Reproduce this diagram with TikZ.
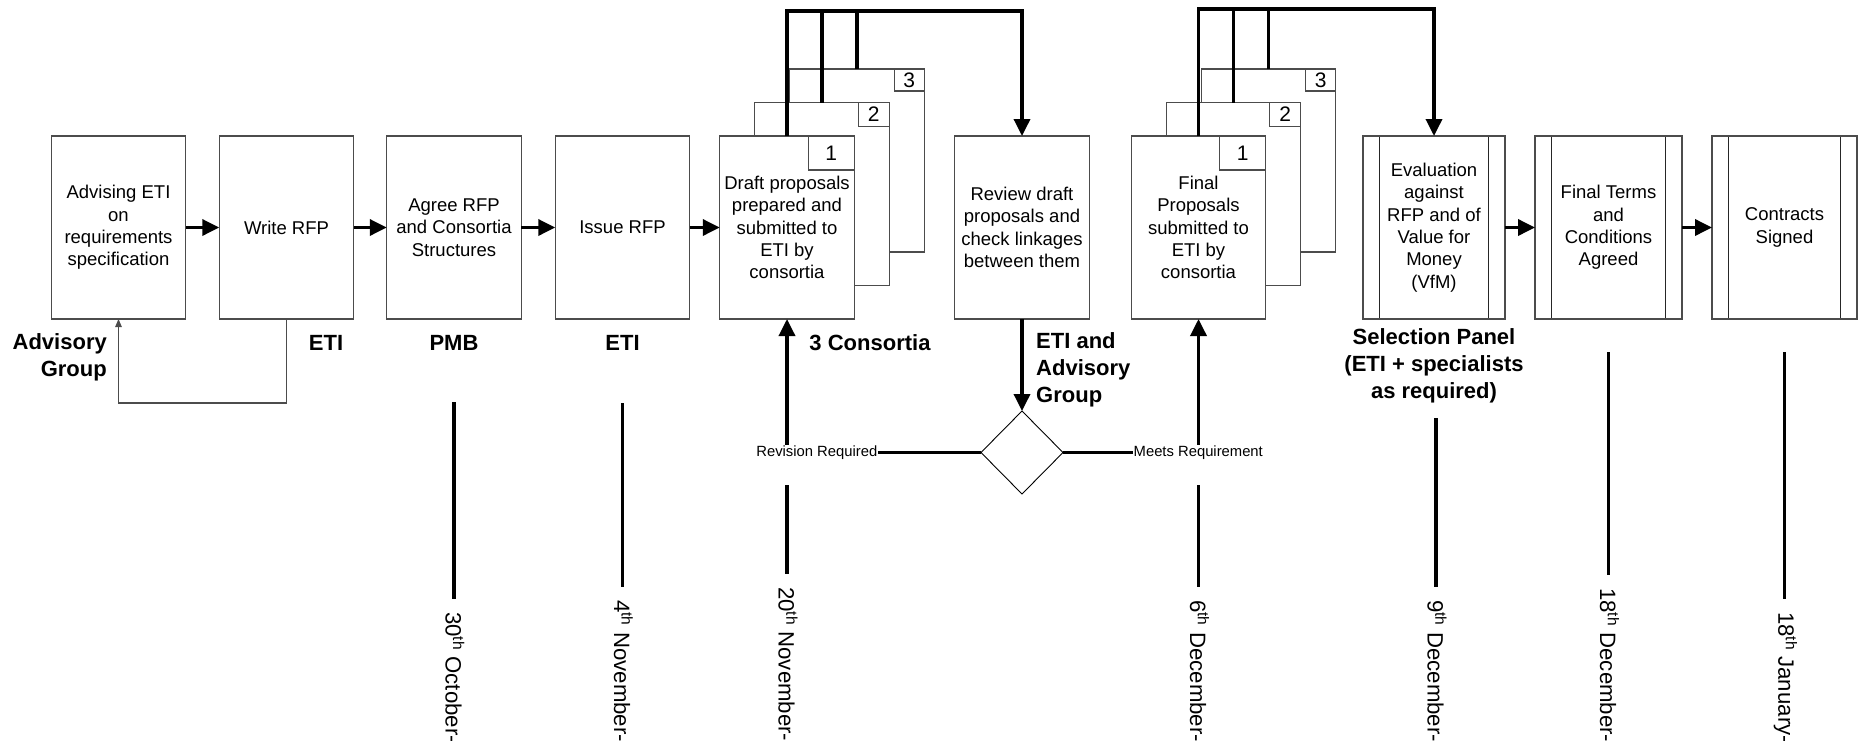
\documentclass[tikz,border=0pt]{standalone}
\usepackage{fontspec}
\setmainfont{Liberation Sans}
\usetikzlibrary{arrows.meta,shapes.geometric}
\newcommand\myboxfont{\fontsize{18.5}{22.4}\selectfont}
\newcommand\mylblfont{\fontsize{22}{27}\selectfont\bfseries}
\newcommand\mydatefont{\fontsize{22.2}{26}\selectfont}
\newcommand\mysmallfont{\fontsize{14.8}{18}\selectfont}
\newcommand\mynumfont{\fontsize{21}{24}\selectfont}
\begin{document}
\begin{tikzpicture}[x=1pt,y=-1pt,
  proc/.style={draw=black!70, line width=1.1pt, fill=white, minimum width=134.5pt, minimum height=183pt, inner sep=0pt, outer sep=0pt, align=center, font=\myboxfont},
  pproc/.style={proc, path picture={
     \draw[black!85,line width=1.1pt] ([xshift=16.5pt]path picture bounding box.north west) -- ([xshift=16.5pt]path picture bounding box.south west);
     \draw[black!85,line width=1.1pt] ([xshift=-16.5pt]path picture bounding box.north east) -- ([xshift=-16.5pt]path picture bounding box.south east);}},
  numbox/.style={draw=black!70, line width=1.1pt, fill=white, inner sep=0pt, outer sep=0pt, font=\mynumfont, anchor=north east},
  flow/.style={line width=3.5pt, -{Triangle[length=17pt,width=16pt]}},
  conn/.style={line width=3.5pt},
  fbline/.style={draw=black!70, line width=1.1pt, -{Triangle[length=8pt,width=6.5pt]}},
  lbl/.style={font=\mylblfont, inner sep=0pt},
  datelbl/.style={font=\mydatefont, rotate=-90, anchor=west, inner sep=0pt},
  tline/.style={line width=3.8pt, shorten >=13pt},
  declbl/.style={font=\mysmallfont, inner sep=0.5pt}
]
\useasboundingbox (0,0) rectangle (1858,740);

% main process boxes
\node[proc] (adv) at (118.5,227.5) {Advising ETI\\on\\requirements\\specification};
\node[proc] (write) at (286.5,227.5) {Write RFP};
\node[proc] (agree) at (454,227.5) {Agree RFP\\and Consortia\\Structures};
\node[proc] (issue) at (622.5,227.5) {Issue RFP};

% draft proposals stack
\node[proc] (d3) at (857,160.5) {};
\node[numbox, minimum width=30pt, minimum height=22pt] (n3) at (d3.north east) {3};
\node[proc] (d2) at (822,194) {};
\node[numbox, minimum width=31pt, minimum height=24pt] (n2) at (d2.north east) {2};
\node[proc] (d1) at (787,227.5) {Draft proposals\\prepared and\\submitted to\\ETI by\\consortia};
\node[numbox, minimum width=46pt, minimum height=34pt] (n1) at (d1.north east) {1};

\node[proc] (review) at (1022,227.5) {Review draft\\proposals and\\check linkages\\between them};

% final proposals stack
\node[proc] (f3) at (1268.5,160.5) {};
\node[numbox, minimum width=30pt, minimum height=22pt] (m3) at (f3.north east) {3};
\node[proc] (f2) at (1233.5,194) {};
\node[numbox, minimum width=31pt, minimum height=24pt] (m2) at (f2.north east) {2};
\node[proc] (f1) at (1198.5,227.5) {Final\\Proposals\\submitted to\\ETI by\\consortia};
\node[numbox, minimum width=46pt, minimum height=34pt] (m1) at (f1.north east) {1};

\node[pproc, minimum width=142pt] (eval) at (1434,227.5) {Evaluation\\against\\RFP and of\\Value for\\Money\\(VfM)};
\node[pproc, minimum width=147pt] (terms) at (1608.5,227.5) {Final Terms\\and\\Conditions\\Agreed};
\node[pproc, minimum width=145pt] (contr) at (1784.5,227.5) {Contracts\\Signed};

% flow arrows
\draw[flow] (adv) -- (write);
\draw[flow] (write) -- (agree);
\draw[flow] (agree) -- (issue);
\draw[flow] (issue) -- (d1);
\draw[flow] (eval) -- (terms);
\draw[flow] (terms) -- (contr);

% top connectors
\coordinate (topL) at (1022,11);
\draw[flow] (d1.north) |- (topL) -- (review.north);
\draw[conn] (d2.north) -- (d2.north |- topL);
\draw[conn] (d3.north) -- (d3.north |- topL);
\coordinate (topR) at (1434,9);
\draw[flow] (f1.north) |- (topR) -- (eval.north);
\draw[conn] (f2.north) -- (f2.north |- topR);
\draw[conn] (f3.north) -- (f3.north |- topR);

% decision
\node[draw, diamond, aspect=1, minimum width=82pt, minimum height=83pt, inner sep=0pt, outer sep=0pt, line width=0.9pt] (dec) at (1022,452.5) {};
\draw[flow] (review.south) -- (dec.north);
\node[declbl, anchor=east] (rev) at (878,452.5) {Revision Required};
\node[declbl, anchor=west] (meets) at (1133,452.5) {Meets Requirement};
\draw[conn] (dec.west) -- (rev.east);
\draw[conn] (dec.east) -- (meets.west);
\draw[flow] (rev.north -| d1.south) -- (d1.south);
\draw[flow] (meets.north -| f1.south) -- (f1.south);

% feedback
\coordinate (fb) at (118.5,403);
\draw[fbline] (write.south) |- (fb) -- (adv.south);

% role labels
\node[lbl, align=right, anchor=east] (lagr) at (107,357) {Advisory\\Group};
\node[lbl] (leti1) at (326,343) {ETI};
\node[lbl] (lpmb) at (454,343) {PMB};
\node[lbl] (leti2) at (622.5,343) {ETI};
\node[lbl] (lcons) at (870,343) {3 Consortia};
\node[lbl, align=left, anchor=west] (leta) at (1036,369.5) {ETI and\\Advisory\\Group};
\node[lbl, align=center] (lsel) at (1434,365.5) {Selection Panel\\(ETI + specialists\\as required)};

% dates
\node[datelbl] (dt1) at (455,612) {30\textsuperscript{th} October-};
\node[datelbl] (dt2) at (623.5,600) {4\textsuperscript{th} November-};
\node[datelbl] (dt3) at (788,587) {20\textsuperscript{th} November-};
\node[datelbl] (dt4) at (1199.5,600) {6\textsuperscript{th} December-};
\node[datelbl] (dt5) at (1437,600) {9\textsuperscript{th} December-};
\node[datelbl] (dt6) at (1609.5,588) {18\textsuperscript{th} December-};
\node[datelbl] (dt7) at (1785.5,612) {18\textsuperscript{th} January-};

\coordinate (t1) at (454,402);
\coordinate (t2) at (622.5,403);
\coordinate (t3) at (787,485);
\coordinate (t4) at (1198.5,485);
\coordinate (t5) at (1436,418);
\coordinate (t6) at (1608.5,352);
\coordinate (t7) at (1784.5,352);
\draw[tline] (t1) -- (t1 |- dt1.west);
\draw[tline] (t2) -- (t2 |- dt2.west);
\draw[tline] (t3) -- (t3 |- dt3.west);
\draw[tline] (t4) -- (t4 |- dt4.west);
\draw[tline] (t5) -- (t5 |- dt5.west);
\draw[tline] (t6) -- (t6 |- dt6.west);
\draw[tline] (t7) -- (t7 |- dt7.west);
\end{tikzpicture}
\end{document}
